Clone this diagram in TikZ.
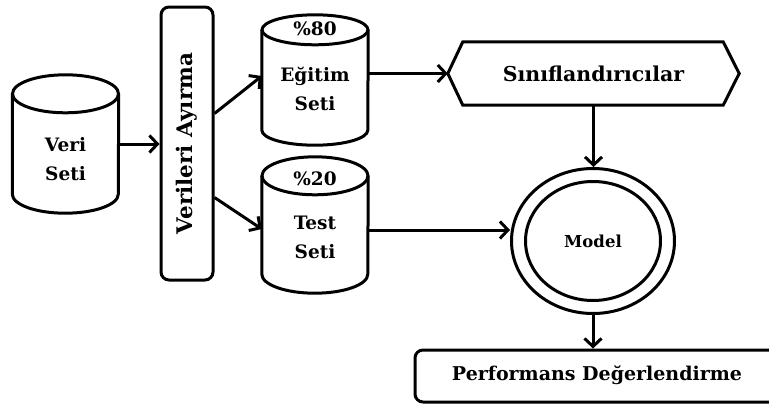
\documentclass[tikz,border=0pt]{standalone}
\usepackage{fontspec}
\setmainfont{DejaVu Serif}
\usetikzlibrary{arrows.meta,shapes.geometric,calc}

\tikzset{
  lw/.style={line width=3pt},
  arr/.style={lw,-{Straight Barb[length=8pt,width=17pt,line width=3pt]}},
  lbl/.style={font=\bfseries\fontsize{19}{28}\selectfont,align=center},
  dbtext/.style={lbl,font=\bfseries\fontsize{18.5}{28.5}\selectfont},
  holder/.style={draw=none,inner sep=0pt},
}

% cylinder outline drawn round a named holder node: #1 name, #2 end radius
\newcommand{\rxval}{53}
\newcommand{\dbdraw}[2]{%
  \draw[lw,fill=white]
    ($(#1.north west)+(0,#2)$) -- ($(#1.south west)-(0,#2)$)
    arc[start angle=180,end angle=0,x radius=\rxval,y radius=#2]
    -- ($(#1.north east)+(0,#2)$);
  \draw[lw] ($(#1.north)+(0,#2)$) ellipse[x radius=\rxval,y radius=#2];
}

\begin{document}
\begin{tikzpicture}[x=1pt,y=-1pt]
\clip (0,0) rectangle (769,410);

% data stores
\node[holder,minimum width=106pt,minimum height=138pt] (veri) at (65.5,144) {};
\node[holder,minimum width=106pt,minimum height=130pt] (egitim) at (315,80) {};
\node[holder,minimum width=106pt,minimum height=136pt] (test) at (315,225) {};
\dbdraw{veri}{19}
\dbdraw{egitim}{15}
\dbdraw{test}{19}
\node[dbtext] at (65.5,159) {Veri\\Seti};
\node[dbtext] at (315,29) {\%80};
\node[dbtext] at (315,89) {Eğitim\\Seti};
\node[dbtext] at (315,179) {\%20};
\node[dbtext] at (315,237.5) {Test\\Seti};

% splitting step
\node[lw,draw,rounded corners=8pt,minimum width=52pt,minimum height=273pt,inner sep=0pt] (split) at (187,143.5) {};
\node[lbl,font=\bfseries\fontsize{21.5}{26}\selectfont,rotate=90] at (split.center) {Verileri Ayırma};

% classifiers
\node[holder,lbl,font=\bfseries\fontsize{20.5}{26}\selectfont,minimum width=291pt,minimum height=63pt] (hex) at (593.5,73.5) {Sınıflandırıcılar};
\draw[lw] (hex.west) -- ($(hex.north west)+(15,0)$) -- ($(hex.north east)-(16,0)$)
  -- (hex.east) -- ($(hex.south east)-(16,0)$) -- ($(hex.south west)+(15,0)$) -- cycle;

% model
\node[lw,draw,ellipse,minimum width=163pt,minimum height=145pt,inner sep=0pt,lbl,font=\bfseries\fontsize{16.5}{20}\selectfont] (model) at (593,241) {Model};
\draw[lw] (model.center) ellipse[x radius=67.5,y radius=59.5];

% evaluation
\node[lw,draw,rounded corners=8pt,minimum width=364pt,minimum height=52pt,inner sep=0pt] (perf) at (597,376) {};
\node[lbl] at (597,375) {Performans Değerlendirme};

% connectors
\draw[arr] (veri.east) -- (veri.east -| split.west);
\draw[arr] ([yshift=30pt]split.east) -- ([yshift=4pt]egitim.west);
\draw[arr] ([yshift=-54pt]split.east) -- ([yshift=-4pt]test.west);
\draw[arr] (egitim.east |- hex.west) -- (hex.west);
\draw[arr] ([yshift=-5pt]test.east) -- ([yshift=-5pt]test.east -| model.west);
\draw[arr] (hex.south) -- (hex.south |- model.north);
\draw[arr] (model.south) -- (model.south |- perf.north);
\end{tikzpicture}
\end{document}
